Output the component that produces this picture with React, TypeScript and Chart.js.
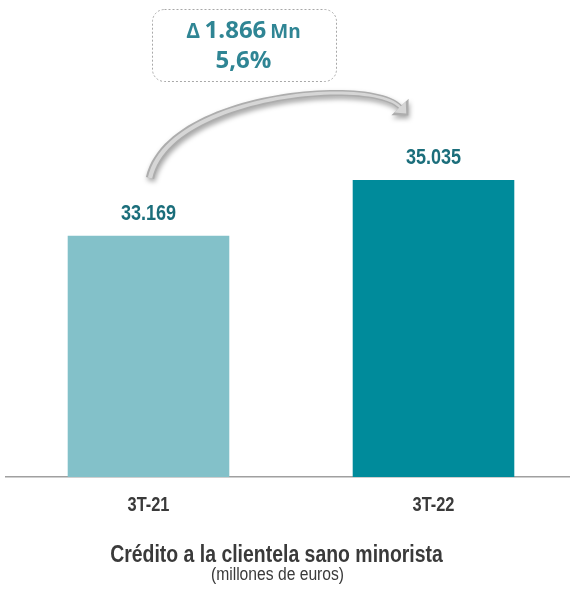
import React, { useEffect, useRef } from "react";
import { Chart, registerables } from "chart.js";

Chart.register(...registerables);

const categories = ["3T-21", "3T-22"];
const values = [33169, 35035];
const valueLabels = ["33.169", "35.035"];
const deltaLabel = "1.866";
const deltaUnit = "Mn";
const pctLabel = "5,6%";
const chartTitle = "Crédito a la clientela sano minorista";
const chartSubtitle = "(millones de euros)";

const SANS = "'Liberation Sans', Arial, sans-serif";
const BOXFONT = "'Open Sans', 'Noto Sans', sans-serif";

function narrowText(
  ctx: CanvasRenderingContext2D,
  text: string,
  x: number,
  y: number,
  font: string,
  color: string,
  sx = 0.82
) {
  ctx.save();
  ctx.font = font;
  ctx.fillStyle = color;
  ctx.textAlign = "center";
  ctx.textBaseline = "alphabetic";
  ctx.translate(x, y);
  ctx.scale(sx, 1);
  ctx.fillText(text, 0, 0);
  ctx.restore();
}

function bez(p0: any, c1: any, c2: any, p3: any, t: number) {
  const u = 1 - t;
  const x = u * u * u * p0.x + 3 * u * u * t * c1.x + 3 * u * t * t * c2.x + t * t * t * p3.x;
  const y = u * u * u * p0.y + 3 * u * u * t * c1.y + 3 * u * t * t * c2.y + t * t * t * p3.y;
  const dx = 3 * u * u * (c1.x - p0.x) + 6 * u * t * (c2.x - c1.x) + 3 * t * t * (p3.x - c2.x);
  const dy = 3 * u * u * (c1.y - p0.y) + 6 * u * t * (c2.y - c1.y) + 3 * t * t * (p3.y - c2.y);
  const l = Math.hypot(dx, dy);
  return { x, y, ux: dx / l, uy: dy / l };
}

function arrowPath(ctx: CanvasRenderingContext2D, p0: any, c1: any, c2: any, p3: any, w0: number, w1: number, headW: number, headL: number) {
  const N = 50;
  const left: any[] = [];
  const right: any[] = [];
  for (let i = 0; i <= N; i++) {
    const t = i / N;
    const b = bez(p0, c1, c2, p3, t);
    const w = w0 + (w1 - w0) * t;
    const nx = -b.uy;
    const ny = b.ux;
    left.push({ x: b.x + nx * w, y: b.y + ny * w });
    right.push({ x: b.x - nx * w, y: b.y - ny * w });
  }
  const e = bez(p0, c1, c2, p3, 1);
  const nx = -e.uy;
  const ny = e.ux;
  ctx.beginPath();
  ctx.moveTo(left[0].x, left[0].y);
  left.forEach((p) => ctx.lineTo(p.x, p.y));
  ctx.lineTo(e.x + nx * headW, e.y + ny * headW);
  ctx.lineTo(e.x + e.ux * headL, e.y + e.uy * headL);
  ctx.lineTo(e.x - nx * headW, e.y - ny * headW);
  for (let i = right.length - 1; i >= 0; i--) ctx.lineTo(right[i].x, right[i].y);
  ctx.closePath();
}

const overlayPlugin = {
  id: "overlay",
  afterDraw(chart: any) {
    const ctx: CanvasRenderingContext2D = chart.ctx;
    ctx.save();
    // value labels
    const meta = chart.getDatasetMeta(0);
    meta.data.forEach((el: any, i: number) => {
      narrowText(ctx, valueLabels[i], el.x, el.y - 16, `bold 22px ${SANS}`, "#1B6E7B");
    });

    // category labels via the x scale
    const xs = chart.scales.x;
    categories.forEach((c, i) => {
      narrowText(ctx, c, xs.getPixelForValue(i), 510.5, `bold 20px ${SANS}`, "#3A3A3A");
    });

    // title + subtitle
    narrowText(ctx, chartTitle, 276.5, 562, `bold 23px ${SANS}`, "#3A3A3A", 0.845);
    narrowText(ctx, chartSubtitle, 277.5, 580, `18px ${SANS}`, "#3A3A3A", 0.87);

    // dashed box
    ctx.beginPath();
    (ctx as any).roundRect(152.5, 9.5, 184, 72, 12);
    ctx.setLineDash([2, 2]);
    ctx.strokeStyle = "#A8A8A8";
    ctx.lineWidth = 1;
    ctx.stroke();
    ctx.setLineDash([]);

    // box text line 1
    ctx.fillStyle = "#2F8594";
    ctx.textBaseline = "alphabetic";
    const parts = [
      { t: "\u0394", f: `bold 21px ${BOXFONT}` },
      { t: " ", f: `bold 17px ${BOXFONT}` },
      { t: deltaLabel, f: `bold 24px ${BOXFONT}` },
      { t: " ", f: `bold 15px ${BOXFONT}` },
      { t: deltaUnit, f: `bold 19px ${BOXFONT}` },
    ];
    let total = 0;
    const widths = parts.map((p) => {
      ctx.font = p.f;
      const w = ctx.measureText(p.t).width;
      total += w;
      return w;
    });
    let x = 243.5 - total / 2;
    ctx.textAlign = "left";
    parts.forEach((p, i) => {
      ctx.font = p.f;
      ctx.fillText(p.t, x, 38);
      x += widths[i];
    });
    ctx.textAlign = "center";
    ctx.font = `bold 24px ${BOXFONT}`;
    ctx.fillText(pctLabel, 243.5, 68);

    // curved arrow
    const p0 = { x: 150, y: 178 };
    const c1 = { x: 168, y: 95 };
    const c2 = { x: 370, y: 76 };
    const p3 = { x: 400, y: 107 };
    ctx.save();
    ctx.shadowColor = "rgba(0,0,0,0.35)";
    ctx.shadowBlur = 5;
    ctx.shadowOffsetX = 1;
    ctx.shadowOffsetY = 3;
    arrowPath(ctx, p0, c1, c2, p3, 4.2, 2.6, 12, 12);
    ctx.fillStyle = "#ADADAD";
    ctx.fill();
    ctx.restore();
    // inner highlight
    arrowPath(ctx, p0, c1, c2, p3, 2.2, 1.2, 8, 9);
    ctx.fillStyle = "#D6D6D6";
    ctx.fill();

    ctx.restore();
  },
};

export default function App() {
  const ref = useRef<HTMLCanvasElement>(null);
  useEffect(() => {
    if (!ref.current) return;
    const chart = new Chart(ref.current, {
      type: "bar",
      data: {
        labels: categories,
        datasets: [
          {
            data: values,
            backgroundColor: ["#83C1C9", "#008B9B"],
            borderWidth: 0,
            barPercentage: 0.567,
            categoryPercentage: 1,
          },
        ],
      },
      options: {
        animation: false,
        responsive: false,
        layout: { padding: { left: 6, right: 0, top: 60, bottom: 113 } },
        plugins: {
          legend: { display: false },
          tooltip: { enabled: false },
          title: { display: false },
        },
        scales: {
          x: {
            grid: { display: false, drawTicks: false },
            border: { display: true, color: "#A0A0A0", width: 1.5 },
            ticks: { display: false },
          },
          y: {
            display: false,
            min: 25100,
            max: 39050,
          },
        },
      },
      plugins: [overlayPlugin],
    });
    return () => chart.destroy();
  }, []);
  return (
    <div
      style={{
        position: "absolute",
        left: 0,
        top: 0,
        width: 570,
        height: 590,
        overflow: "hidden",
      }}
    >
      <canvas ref={ref} width={576} height={590} style={{ width: 576, height: 590 }} />
    </div>
  );
}
